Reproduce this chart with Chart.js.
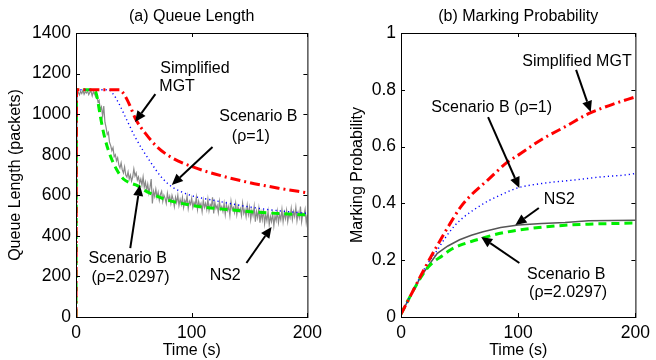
<!DOCTYPE html>
<html>
<head>
<meta charset="UTF-8">
<title>Queue Length and Marking Probability</title>
<script src="https://cdn.jsdelivr.net/npm/chart.js"></script>
<style>
  body { margin: 0; background: #ffffff; }
  .box { position: absolute; top: 0; width: 328px; height: 360px; }
  #leftBox { left: 0; }
  #rightBox { left: 328px; }
</style>
</head>
<body>
<div class="box" id="leftBox"><canvas id="queueChart"></canvas></div>
<div class="box" id="rightBox"><canvas id="probChart"></canvas></div>
<script>
// ---- (a) queue length, packets ----
const mgtQueueT = [0, 0.5, 38, 40, 45, 52, 60, 70, 80, 93, 100, 110, 120, 131, 148, 160, 175, 200];
const mgtQueueV = [0, 1120, 1120, 1110, 1062, 971, 905, 839, 795, 757, 742, 722, 705, 688, 665, 651, 635, 612];

const rho1QueueT = [0, 0.5, 28, 32, 37, 44, 51, 58, 65, 73, 82, 90, 100, 120, 140, 160, 180, 200];
const rho1QueueV = [0, 1120, 1120, 1100, 1053, 970, 888, 820, 759, 695, 645, 620, 598, 574, 552, 534, 521, 511];

const rho2QueueT = [0, 0.5, 16, 18, 21, 25, 30, 35, 41, 47, 53, 60, 68, 80, 95, 107, 130, 151, 175, 200];
const rho2QueueV = [0, 1120, 1120, 1090, 990, 880, 790, 728, 680, 660, 648, 622, 600, 575, 556, 544, 530, 519, 510, 503];

// NS2 trace, one sample per second (t = 0..200)
const ns2QueueV = [
  0, 1100, 1108, 1095, 1112, 1102, 1118, 1098, 1110, 1104,
  1115, 1096, 1108, 1112, 1090, 1110, 1100, 1085, 1092, 1060,
  1068, 1020, 1035, 990, 1040, 960, 935, 900, 910, 860,
  845, 820, 835, 790, 800, 770, 785, 750, 735, 760,
  725, 710, 740, 700, 690, 715, 680, 700, 670, 690,
  730, 695, 710, 675, 690, 660, 680, 650, 690, 640,
  665, 625, 655, 610, 640, 680, 560, 620, 595, 630,
  590, 615, 575, 605, 620, 570, 600, 585, 560, 610,
  575, 595, 560, 600, 580, 545, 590, 565, 600, 550,
  580, 555, 590, 540, 575, 560, 595, 535, 570, 555,
  585, 540, 565, 550, 590, 530, 570, 545, 560, 520,
  575, 540, 560, 530, 580, 525, 555, 545, 590, 510,
  565, 535, 550, 515, 570, 530, 545, 520, 560, 505,
  555, 525, 545, 500, 570, 530, 540, 515, 560, 505,
  545, 520, 535, 500, 560, 510, 530, 495, 550, 505,
  540, 480, 525, 500, 545, 470, 520, 490, 535, 465,
  515, 480, 530, 460, 505, 475, 520, 455, 495, 470,
  510, 450, 500, 475, 520, 465, 505, 480, 530, 470,
  515, 485, 525, 470, 510, 490, 535, 480, 520, 495,
  540, 475, 515, 490, 545, 470, 510, 500, 530, 465,
  505
];

// ---- (b) marking probability ----
const mgtProbT = [0, 10, 20, 30, 37, 45, 51, 60, 74, 91, 100, 120, 140, 160, 180, 200];
const mgtProbV = [0.01, 0.09, 0.17, 0.245, 0.295, 0.35, 0.388, 0.43, 0.482, 0.546, 0.57, 0.625, 0.67, 0.716, 0.748, 0.775];

const rho1ProbT = [0, 10, 20, 31, 38, 45, 53, 62, 75, 88, 99, 120, 149, 170, 191, 200];
const rho1ProbV = [0.01, 0.09, 0.17, 0.236, 0.28, 0.318, 0.35, 0.377, 0.41, 0.435, 0.454, 0.47, 0.483, 0.493, 0.5, 0.505];

const rho2ProbT = [0, 10, 17, 22, 28, 35, 42, 50, 60, 69, 80, 100, 120, 140, 160, 180, 200];
const rho2ProbV = [0.01, 0.09, 0.14, 0.17, 0.195, 0.215, 0.236, 0.252, 0.266, 0.277, 0.29, 0.306, 0.316, 0.323, 0.327, 0.329, 0.331];

const ns2ProbT = [0, 10, 17, 25, 31, 40, 50, 60, 70, 85, 100, 120, 140, 160, 200];
const ns2ProbV = [0.01, 0.09, 0.142, 0.19, 0.224, 0.25, 0.272, 0.288, 0.3, 0.315, 0.324, 0.329, 0.333, 0.339, 0.341];

const timeTicks = [0, 100, 200];
const queueTicks = [0, 200, 400, 600, 800, 1000, 1200, 1400];
const probTicks = [0, 0.2, 0.4, 0.6, 0.8, 1];

const FONT = "'Liberation Sans', Arial, Helvetica, sans-serif";

function pts(ts, vs) { return ts.map((t, i) => ({ x: t, y: vs[i] })); }

// frame, inward ticks, panel title and annotations (text [t, v, str], arrows [t0, v0, t1, v1])
function makeNotes(title, texts, arrows) {
  return {
    id: 'notes',
    afterDatasetsDraw(chart) {
      const { ctx, chartArea: a, scales: { x, y } } = chart;
      ctx.save();
      ctx.strokeStyle = '#000';
      ctx.lineWidth = 1;
      ctx.strokeRect(a.left + 0.5, a.top + 0.5, a.right - a.left, a.bottom - a.top);
      ctx.beginPath();
      x.ticks.forEach(tk => {
        const px = Math.round(x.getPixelForValue(tk.value)) + 0.5;
        ctx.moveTo(px, a.bottom); ctx.lineTo(px, a.bottom - 4);
        ctx.moveTo(px, a.top); ctx.lineTo(px, a.top + 4);
      });
      y.ticks.forEach(tk => {
        const py = Math.round(y.getPixelForValue(tk.value)) + 0.5;
        ctx.moveTo(a.left, py); ctx.lineTo(a.left + 4, py);
        ctx.moveTo(a.right, py); ctx.lineTo(a.right - 4, py);
      });
      ctx.stroke();

      ctx.fillStyle = '#000';
      ctx.font = '16px ' + FONT;
      ctx.textBaseline = 'middle';
      ctx.textAlign = 'center';
      ctx.fillText(title, (a.left + a.right) / 2, a.top - 16);
      ctx.textAlign = 'left';
      texts.forEach(([t, v, s]) => ctx.fillText(s, x.getPixelForValue(t), y.getPixelForValue(v)));

      arrows.forEach(([t0, v0, t1, v1]) => {
        const x0 = x.getPixelForValue(t0), y0 = y.getPixelForValue(v0);
        const x1 = x.getPixelForValue(t1), y1 = y.getPixelForValue(v1);
        const ang = Math.atan2(y1 - y0, x1 - x0);
        const hl = 11, hw = 5;
        const bx = x1 - hl * Math.cos(ang), by = y1 - hl * Math.sin(ang);
        ctx.lineWidth = 2;
        ctx.beginPath();
        ctx.moveTo(x0, y0); ctx.lineTo(bx, by);
        ctx.stroke();
        ctx.beginPath();
        ctx.moveTo(x1, y1);
        ctx.lineTo(bx + hw * Math.sin(ang), by - hw * Math.cos(ang));
        ctx.lineTo(bx - hw * Math.sin(ang), by + hw * Math.cos(ang));
        ctx.closePath();
        ctx.fill();
      });
      ctx.restore();
    }
  };
}

function lineSet(data, color, width, dash, order, mode) {
  return {
    data, borderColor: color, borderWidth: width, borderDash: dash,
    pointRadius: 0, fill: false, order,
    cubicInterpolationMode: mode || 'default', tension: 0
  };
}

function makeChart(id, datasets, yTitle, yTicks, yMax, yAxisW, yTitlePad, rightPad, notes) {
  return new Chart(document.getElementById(id), {
    type: 'line',
    data: { datasets },
    options: {
      responsive: true,
      maintainAspectRatio: false,
      animation: false,
      layout: { padding: { left: 0, right: rightPad, top: 33, bottom: 0 } },
      plugins: {
        legend: { display: false },
        tooltip: { enabled: false },
        title: { display: false }
      },
      scales: {
        x: {
          type: 'linear', min: 0, max: 200,
          afterBuildTicks: s => { s.ticks = timeTicks.map(v => ({ value: v })); },
          afterFit: s => { s.height = 43; },
          grid: { display: false, drawTicks: false },
          border: { display: false },
          ticks: { color: '#000', font: { family: FONT, size: 17.5 }, padding: 6, maxRotation: 0, callback: v => String(v) },
          title: { display: true, text: 'Time (s)', color: '#000', font: { family: FONT, size: 16 }, padding: { top: 0, bottom: 0 } }
        },
        y: {
          type: 'linear', min: 0, max: yMax,
          afterBuildTicks: s => { s.ticks = yTicks.map(v => ({ value: v })); },
          afterFit: s => { s.width = yAxisW; },
          grid: { display: false, drawTicks: false },
          border: { display: false },
          ticks: { color: '#000', font: { family: FONT, size: 17.5 }, padding: 5, callback: v => String(Math.round(v * 10) / 10) },
          title: { display: true, text: yTitle, color: '#000', font: { family: FONT, size: 16 }, padding: { top: yTitlePad, bottom: 0 } }
        }
      }
    },
    plugins: [notes]
  });
}

makeChart('queueChart', [
  lineSet(pts(mgtQueueT, mgtQueueV), '#ff0000', 3, [10, 4, 2, 4], 1, 'monotone'),
  lineSet(pts(rho1QueueT, rho1QueueV), '#0000ff', 1.4, [1.2, 3], 2, 'monotone'),
  lineSet(pts(rho2QueueT, rho2QueueV), '#00ee00', 3, [8, 5], 3, 'monotone'),
  lineSet(ns2QueueV.map((v, i) => ({ x: i, y: v })), '#8a8a8a', 1.2, [], 4)
], 'Queue Length (packets)', queueTicks, 1400, 76, 6, 13,
makeNotes('(a) Queue Length', [
  [72.8, 1227, 'Simplified'],
  [72, 1138, 'MGT'],
  [123.8, 986, 'Scenario B'],
  [134.7, 887, '(\u03c1=1)'],
  [10.9, 286, 'Scenario B'],
  [13.4, 192, '(\u03c1=2.0297)'],
  [115.5, 202, 'NS2']
], [
  [68.6, 1099, 51, 961],
  [118, 838, 82.8, 651],
  [46.9, 340, 55.2, 651],
  [147.3, 266, 169, 444]
]));

makeChart('probChart', [
  lineSet(pts(mgtProbT, mgtProbV), '#ff0000', 3, [10, 4, 2, 4], 1, 'monotone'),
  lineSet(pts(rho1ProbT, rho1ProbV), '#0000ff', 1.4, [1.2, 3], 2, 'monotone'),
  lineSet(pts(rho2ProbT, rho2ProbV), '#00ee00', 3, [8, 5], 3, 'monotone'),
  lineSet(pts(ns2ProbT, ns2ProbV), '#555555', 1.5, [], 4)
], 'Marking Probability', probTicks, 1, 73, 20, 15,
makeNotes('(b) Marking Probability', [
  [103.5, 0.901, 'Simplified MGT'],
  [25.9, 0.736, 'Scenario B (\u03c1=1)'],
  [121.8, 0.412, 'NS2'],
  [107.6, 0.151, 'Scenario B'],
  [109.3, 0.0845, '(\u03c1=2.0297)']
], [
  [149.4, 0.870, 161.9, 0.722],
  [74.3, 0.704, 101, 0.454],
  [117.6, 0.384, 97.6, 0.324],
  [101, 0.190, 68.4, 0.282]
]));
</script>
</body>
</html>
